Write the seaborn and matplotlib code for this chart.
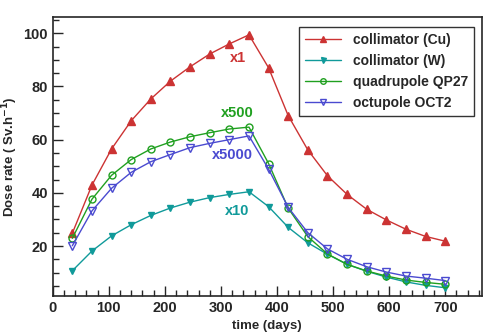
import numpy as np
import pandas as pd
import seaborn as sns
import matplotlib.pyplot as plt
from matplotlib.ticker import MultipleLocator

days = [35, 70, 105, 140, 175, 210, 245, 280, 315, 350,
        385, 420, 455, 490, 525, 560, 595, 630, 665, 700]

cu = [24.8, 42.9, 56.5, 67.1, 75.3, 82.0, 87.4, 92.2, 96.0, 99.4,
      87.0, 69.0, 56.1, 46.4, 39.4, 33.8, 29.8, 26.3, 23.6, 21.8]
w = [10.7, 18.1, 23.8, 28.0, 31.5, 34.3, 36.5, 38.2, 39.4, 40.4,
     34.8, 27.0, 21.2, 16.9, 13.1, 10.5, 8.3, 6.5, 5.2, 4.3]
qp27 = [22.9, 37.6, 46.6, 52.5, 56.5, 59.1, 61.1, 62.6, 64.0, 64.7,
        51.0, 34.2, 23.5, 17.0, 13.1, 10.6, 8.7, 7.2, 6.3, 5.6]
oct2 = [20.1, 33.2, 41.7, 47.7, 51.7, 54.4, 57.0, 58.6, 60.0, 61.4,
        48.9, 34.5, 25.0, 18.9, 15.0, 12.2, 10.2, 8.7, 7.9, 7.0]

names = ['collimator (Cu)', 'collimator (W)', 'quadrupole QP27', 'octupole OCT2']
scales = ['x1', 'x10', 'x500', 'x5000']
scale_x = [330, 328, 330, 321]
scale_y = [90.6, 33.2, 70.1, 54.2]

sns.set_style('ticks')
plt.rcParams['font.family'] = ['Liberation Sans', 'DejaVu Sans']
plt.rcParams['font.weight'] = 'bold'

df = pd.DataFrame({'time': days * 4,
                   'dose': cu + w + qp27 + oct2,
                   'source': np.repeat(names, len(days))})

colors = ['#cc3333', '#109a9a', '#20a020', '#4a4ad0']
markers = ['^', 'v', 'o', 'v']
filled = [True, True, False, False]
msize = [5.5, 4.5, 5, 5.5]

fig = plt.figure(figsize=(4.86, 3.36), dpi=100)
ax = fig.add_axes([52.7 / 486, 1 - 296 / 336, 429 / 486, 279.5 / 336])

for name, c, m, f, ms in zip(names, colors, markers, filled, msize):
    sub = df[df['source'] == name]
    sns.lineplot(data=sub, x='time', y='dose', ax=ax, color=c, marker=m,
                 markersize=ms, linewidth=1.0, label=name,
                 markerfacecolor=c if f else 'none', markeredgecolor=c,
                 markeredgewidth=1.0)

# scale factors
for s, x, y, c in zip(scales, scale_x, scale_y, colors):
    ax.text(x, y, s, color=c, fontsize=10.5, fontweight='bold', ha='center', va='center')

ax.set_xlim(0, 765)
ax.set_ylim(1.2, 106.3)
ax.xaxis.set_major_locator(MultipleLocator(100))
ax.xaxis.set_minor_locator(MultipleLocator(20))
ax.yaxis.set_major_locator(MultipleLocator(20))
ax.yaxis.set_minor_locator(MultipleLocator(5))
ax.tick_params(which='both', direction='in', labelsize=10.5)
ax.tick_params(which='major', length=7, width=1)
ax.tick_params(which='minor', length=4, width=1)
for lab in ax.get_xticklabels() + ax.get_yticklabels():
    lab.set_fontweight('bold')
for s in ax.spines.values():
    s.set_linewidth(1.2)

ax.set_xlabel('time (days)', fontsize=9.5, fontweight='bold')
ax.set_ylabel('Dose rate ( Sv.h$^{\\mathbf{-1}}$)', fontsize=9.5, fontweight='bold')
ax.yaxis.set_label_coords(-0.076, 0.5)

leg = ax.legend(loc='upper right', bbox_to_anchor=(474 / 486, 1 - 27 / 336),
                bbox_transform=fig.transFigure, borderaxespad=0, frameon=True,
                fancybox=False, edgecolor='black', fontsize=10, handlelength=2.6,
                borderpad=0.45, labelspacing=0.5, markerscale=0.8)
leg.get_frame().set_linewidth(1.0)
for t in leg.get_texts():
    t.set_fontweight('bold')

fig.savefig('out.png', dpi=100)
